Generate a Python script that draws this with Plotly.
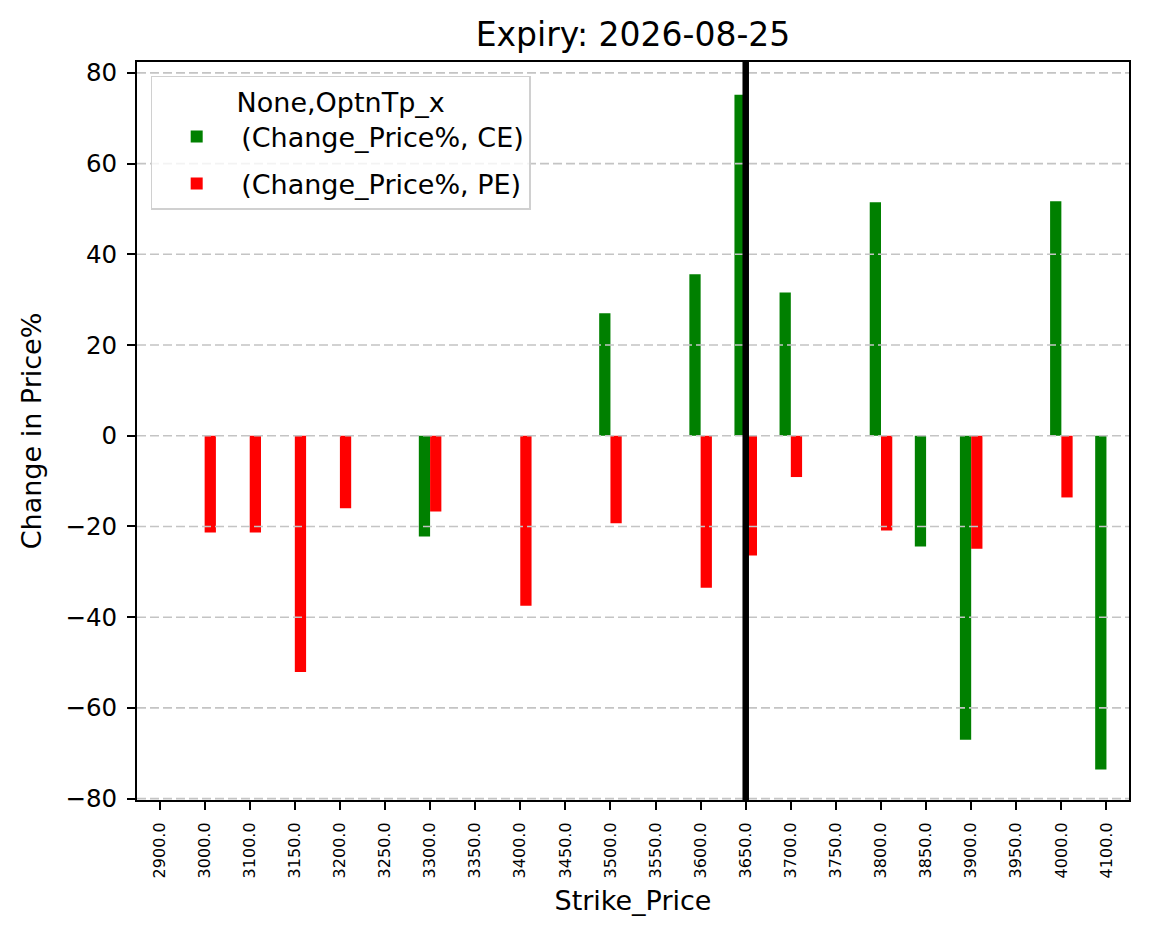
import plotly.graph_objects as go

strikes = ["2900.0", "3000.0", "3100.0", "3150.0", "3200.0", "3250.0", "3300.0",
           "3350.0", "3400.0", "3450.0", "3500.0", "3550.0", "3600.0", "3650.0",
           "3700.0", "3750.0", "3800.0", "3850.0", "3900.0", "3950.0", "4000.0", "4100.0"]
ce_change = [None, None, None, None, None, None, -22.2,
             None, None, None, 27.0, None, 35.6, 75.2,
             31.6, None, 51.5, -24.4, -67.0, None, 51.7, -73.6]
pe_change = [None, -21.3, -21.3, -52.1, -16.0, None, -16.7,
             None, -37.5, None, -19.3, None, -33.5, -26.4,
             -9.1, None, -20.9, None, -24.9, None, -13.6, None]
spot_strike = "3650.0"
y_ticks = [-80, -60, -40, -20, 0, 20, 40, 60, 80]

FONT = "DejaVu Sans"

fig = go.Figure()
fig.add_trace(go.Bar(x=strikes, y=ce_change, name="(Change_Price%, CE)", legendgroup="ce",
                     marker=dict(color="#008000", line=dict(width=0))))
fig.add_trace(go.Bar(x=strikes, y=pe_change, name="(Change_Price%, PE)", legendgroup="pe",
                     marker=dict(color="#ff0000", line=dict(width=0))))

shapes = []
for v in y_ticks:
    shapes.append(dict(type="line", xref="paper", x0=0, x1=1, yref="y", y0=v, y1=v,
                       line=dict(color="#c4c4c4", width=1.6, dash="9px,4px"), layer="above"))
xi = strikes.index(spot_strike)
shapes.append(dict(type="line", xref="x", x0=xi, x1=xi, yref="paper", y0=0, y1=1,
                   line=dict(color="black", width=6.5), layer="above"))

fig.update_layout(
    width=1149, height=939,
    margin=dict(l=137, r=20, t=62, b=139),
    paper_bgcolor="white", plot_bgcolor="white",
    font=dict(family=FONT, color="black", size=27),
    barmode="group", bargap=0.5, bargroupgap=0,
    title=dict(text="Expiry: 2026-08-25", x=0.5, xref="paper", xanchor="center",
               y=1 - 34 / 939, yref="container", yanchor="middle",
               font=dict(size=33, family=FONT, color="black")),
    shapes=shapes,
    legend=dict(x=0.0138, y=0.9814, xanchor="left", yanchor="top",
                bgcolor="rgba(255,255,255,0.8)", bordercolor="#d0d0d0", borderwidth=1.5,
                font=dict(size=27, family=FONT),
                title=dict(text="None,OptnTp_x", side="top center", font=dict(size=27, family=FONT)),
                itemwidth=79, tracegroupgap=9),
)
fig.update_xaxes(
    type="category", range=[-0.5, len(strikes) - 0.5],
    showline=True, mirror=True, linecolor="black", linewidth=2,
    ticks="outside", ticklen=8, tickwidth=2, tickcolor="black",
    tickangle=-90, tickfont=dict(size=16, family=FONT), ticklabelstandoff=6,
    showgrid=False, zeroline=False,
    title=dict(text="Strike_Price", font=dict(size=27, family=FONT), standoff=14),
)
fig.update_yaxes(
    range=[-80.3, 82.4], tickvals=y_ticks,
    showline=True, mirror=True, linecolor="black", linewidth=2,
    ticks="outside", ticklen=8, tickwidth=2, tickcolor="black",
    tickfont=dict(size=24.5, family=FONT), ticklabelstandoff=5,
    showgrid=False, zeroline=False,
    title=dict(text="Change in Price%", font=dict(size=27, family=FONT), standoff=16),
)

fig.write_html("out.html")
